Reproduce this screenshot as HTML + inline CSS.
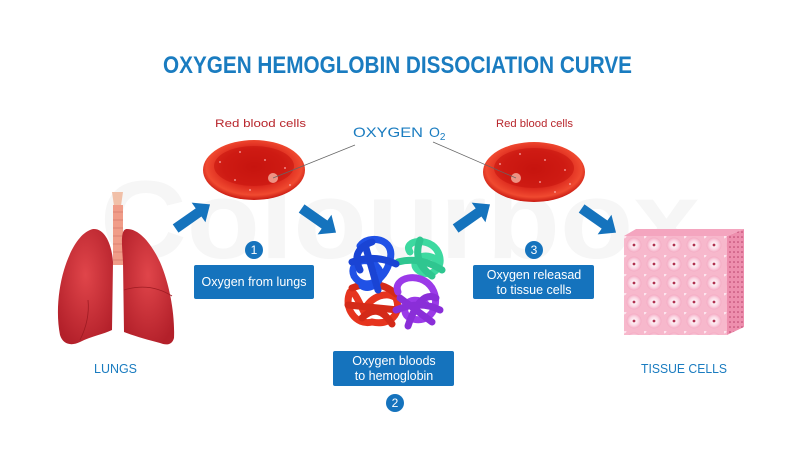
<!DOCTYPE html>
<html><head><meta charset="utf-8"><style>
html,body{margin:0;padding:0;background:#fff;width:800px;height:457px;overflow:hidden}
svg{display:block}
text{font-family:"Liberation Sans",sans-serif}
</style></head><body>
<svg width="800" height="457" viewBox="0 0 800 457" xmlns="http://www.w3.org/2000/svg">
<defs>
<radialGradient id="rbc" cx="50%" cy="45%" r="55%">
<stop offset="0" stop-color="#c4120e"/><stop offset="0.55" stop-color="#d8231a"/><stop offset="0.85" stop-color="#f04a30"/><stop offset="1" stop-color="#c81a12"/></radialGradient>
<radialGradient id="lung" cx="50%" cy="40%" r="65%">
<stop offset="0" stop-color="#e0454a"/><stop offset="1" stop-color="#b3202a"/></radialGradient>
<radialGradient id="cell" cx="50%" cy="50%" r="50%">
<stop offset="0" stop-color="#fff"/><stop offset="0.6" stop-color="#fbd6e3"/><stop offset="1" stop-color="#f4a9c2"/></radialGradient>
<pattern id="tis" width="20" height="19" patternUnits="userSpaceOnUse" x="624" y="236">
<rect width="20" height="19" fill="#f7b8cc"/>
<circle cx="10" cy="9" r="7.5" fill="url(#cell)"/>
<circle cx="10" cy="9" r="1.4" fill="#b03050"/>
<circle cx="0" cy="0" r="2.5" fill="#fde5ee"/>
</pattern>
<pattern id="side" width="4" height="5" patternUnits="userSpaceOnUse">
<rect width="4" height="5" fill="#ee8fae"/><circle cx="2" cy="2" r="0.8" fill="#b8406a"/></pattern>
</defs>

<!-- watermark -->
<text x="400" y="258" text-anchor="middle" font-size="110" font-weight="bold" fill="#f6f6f6" textLength="600" lengthAdjust="spacingAndGlyphs">Colourbox</text>

<text x="163" y="73" font-size="24" font-weight="bold" fill="#1a7cc0" textLength="469" lengthAdjust="spacingAndGlyphs">OXYGEN HEMOGLOBIN DISSOCIATION CURVE</text>

<text x="215" y="127" font-size="11" fill="#b8262c" textLength="91" lengthAdjust="spacingAndGlyphs">Red blood cells</text>
<text x="496" y="127" font-size="11" fill="#b8262c" textLength="77" lengthAdjust="spacingAndGlyphs">Red blood cells</text>
<text x="353" y="137" font-size="14" fill="#1a7cc0" textLength="70" lengthAdjust="spacingAndGlyphs">OXYGEN</text>
<text x="429" y="137" font-size="14" fill="#1a7cc0">O<tspan font-size="10" dy="3">2</tspan></text>

<!-- RBCs -->
<g>
<ellipse cx="254" cy="170" rx="51" ry="30" fill="url(#rbc)"/>
<ellipse cx="254" cy="166" rx="40" ry="20" fill="#c8150f" opacity="0.6"/>
<circle cx="273" cy="178" r="5" fill="#f6b0a0" opacity="0.8"/>
<g fill="#fbb" opacity="0.7"><circle cx="220" cy="162" r="1"/><circle cx="240" cy="152" r="1"/><circle cx="265" cy="160" r="1"/><circle cx="285" cy="168" r="1"/><circle cx="235" cy="180" r="1"/><circle cx="250" cy="190" r="1"/><circle cx="290" cy="185" r="1"/></g>
<ellipse cx="534" cy="172" rx="51" ry="30" fill="url(#rbc)"/>
<ellipse cx="534" cy="168" rx="40" ry="20" fill="#c8150f" opacity="0.6"/>
<circle cx="516" cy="178" r="5" fill="#f6b0a0" opacity="0.8"/>
<g fill="#fbb" opacity="0.7"><circle cx="500" cy="164" r="1"/><circle cx="520" cy="154" r="1"/><circle cx="545" cy="160" r="1"/><circle cx="565" cy="170" r="1"/><circle cx="540" cy="182" r="1"/><circle cx="555" cy="192" r="1"/><circle cx="570" cy="184" r="1"/></g>
</g>
<line x1="355" y1="145" x2="273" y2="178" stroke="#666" stroke-width="0.7"/>
<line x1="433" y1="142" x2="516" y2="178" stroke="#666" stroke-width="0.7"/>

<!-- arrows -->
<g fill="#1573bd">
<polygon points="-20,-5 8,-5 8,-12 22,0 8,12 8,5 -20,5" transform="translate(192,217) rotate(-35)"/>
<polygon points="-20,-5 8,-5 8,-12 22,0 8,12 8,5 -20,5" transform="translate(318,220) rotate(35)"/>
<polygon points="-20,-5 8,-5 8,-12 22,0 8,12 8,5 -20,5" transform="translate(472,217) rotate(-35)"/>
<polygon points="-20,-5 8,-5 8,-12 22,0 8,12 8,5 -20,5" transform="translate(598,220) rotate(35)"/>
</g>

<!-- badges and boxes -->
<g fill="#1573bd">
<circle cx="254" cy="250" r="9"/><circle cx="534" cy="250" r="9"/><circle cx="395" cy="403" r="9"/>
<rect x="194" y="265" width="120" height="34" rx="2"/>
<rect x="473" y="265" width="121" height="34" rx="2"/>
<rect x="333" y="351" width="121" height="35" rx="2"/>
</g>
<g fill="#fff" font-size="12" text-anchor="middle">
<text x="254" y="254">1</text><text x="534" y="254">3</text><text x="395" y="407">2</text>
<text x="254" y="286" font-size="12.5">Oxygen from lungs</text>
<text x="534" y="279" font-size="12.5">Oxygen releasad</text>
<text x="534" y="294" font-size="12.5">to tissue cells</text>
<text x="394" y="365" font-size="12.5">Oxygen bloods</text>
<text x="394" y="380" font-size="12.5">to hemoglobin</text>
</g>

<!-- lungs -->
<g>
<path d="M112,192 L123,192 L121,206 L114,206 Z" fill="#f1c0a8"/>
<rect x="113" y="205" width="10" height="60" fill="#f09c88"/>
<g stroke="#d77c6c" stroke-width="0.8"><line x1="113" y1="212" x2="123" y2="212"/><line x1="113" y1="220" x2="123" y2="220"/><line x1="113" y1="228" x2="123" y2="228"/><line x1="113" y1="236" x2="123" y2="236"/><line x1="113" y1="244" x2="123" y2="244"/><line x1="113" y1="252" x2="123" y2="252"/><line x1="113" y1="260" x2="123" y2="260"/></g>
<path d="M93,229 C80,232 70,250 64,270 C58,290 56,315 60,335 C63,345 72,346 80,342 C92,336 104,334 112,330 L113,262 C112,245 105,228 93,229 Z" fill="url(#lung)"/>
<path d="M127,229 C140,229 152,245 160,262 C170,285 175,315 174,338 C172,346 165,345 160,343 C148,340 134,336 124,332 L123,262 C122,245 120,229 127,229 Z" fill="url(#lung)"/>
<path d="M124,290 Q150,282 172,296" stroke="#9e1b22" stroke-width="0.8" fill="none"/>
<path d="M88,300 Q90,320 80,340" stroke="#9e1b22" stroke-width="0.8" fill="none"/>
</g>
<text x="94" y="373" font-size="12.5" fill="#1a7cc0" textLength="43" lengthAdjust="spacingAndGlyphs">LUNGS</text>

<!-- hemoglobin -->
<g fill="none" stroke-width="7" stroke-linecap="round">
<path d="M350,292 C343,308 356,326 372,322 C390,326 402,314 396,298 C386,290 368,298 364,312 C358,300 354,290 350,292" stroke="#e6341e"/>
<path d="M352,288 Q378,278 396,294 M362,318 Q378,302 392,324 M348,305 L398,310" stroke="#d42a18"/>
<path d="M410,252 C402,240 430,236 438,252 C446,268 430,280 418,270 C408,262 424,248 440,262" stroke="#3dd9a0"/>
<path d="M398,262 Q420,256 442,270 M420,240 Q412,262 432,276" stroke="#2fc690"/>
<path d="M398,292 C392,278 420,270 432,288 C442,305 430,326 410,318 C398,312 408,292 426,304" stroke="#9b3ae8"/>
<path d="M396,310 Q420,300 440,310 M408,326 Q420,290 436,298 M400,298 L432,322" stroke="#8a2ed8"/>
<path d="M360,246 C368,234 396,238 390,260 C385,282 364,292 354,276 C348,262 368,254 378,268 C386,278 372,292 362,286" stroke="#2051e6"/>
<path d="M366,248 L378,290 M352,262 Q375,254 396,264 M372,242 Q350,250 360,270" stroke="#1a44d4"/>
</g>

<!-- tissue cube -->
<polygon points="727,236 744,229 744,327 727,335" fill="url(#side)"/>
<polygon points="624,236 636,229 744,229 727,236" fill="#f4a5bf"/>
<rect x="624" y="236" width="103" height="99" fill="url(#tis)"/>
<text x="641" y="373" font-size="12.5" fill="#1a7cc0" textLength="86" lengthAdjust="spacingAndGlyphs">TISSUE CELLS</text>
</svg>
</body></html>
